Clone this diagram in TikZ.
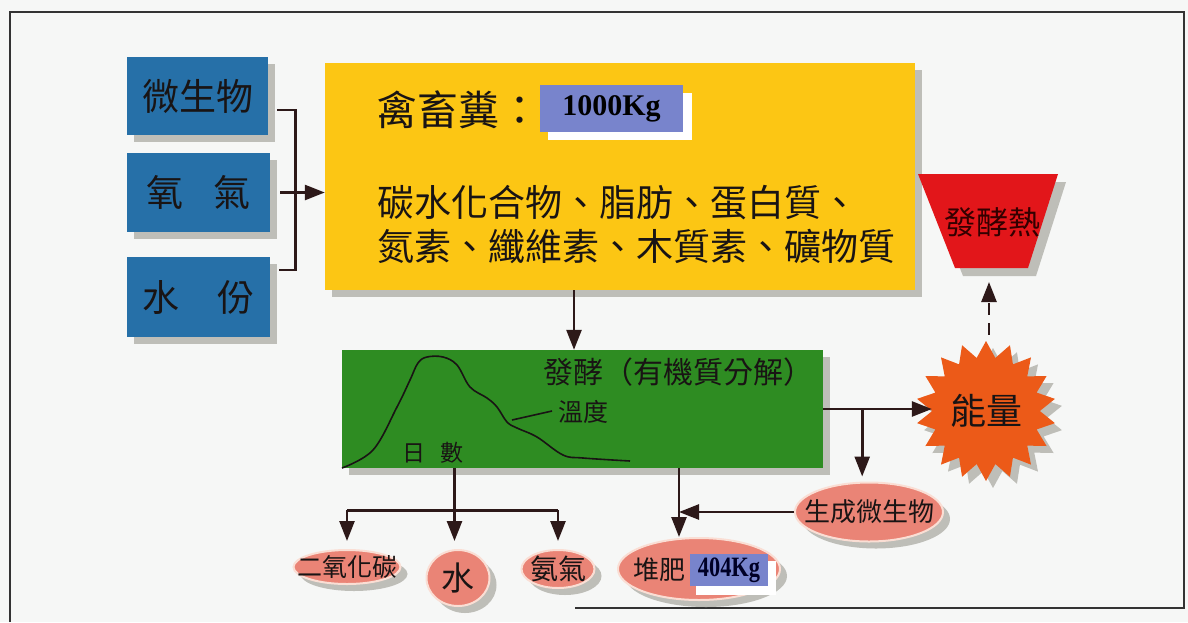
\documentclass[tikz,border=0pt]{standalone}
\usepackage{fontspec}
\setmainfont{Liberation Serif}
\newfontfamily\cjk{Noto Sans CJK TC}
\newfontfamily\numf[FakeStretch=0.8]{Liberation Serif}
\usetikzlibrary{arrows.meta,shapes.geometric,shadows}
\newcommand\myfs[1]{\fontsize{#1}{#1}\selectfont}
\definecolor{bg}{RGB}{246,247,246}
\definecolor{boxblue}{RGB}{38,112,168}
\definecolor{yel}{RGB}{252,198,20}
\definecolor{grn}{RGB}{46,140,34}
\definecolor{lblue}{RGB}{120,132,204}
\definecolor{salmon}{RGB}{234,132,118}
\definecolor{rim}{RGB}{250,222,212}
\definecolor{hotred}{RGB}{226,22,26}
\definecolor{orng}{RGB}{236,90,24}
\definecolor{shgrey}{RGB}{190,190,184}
\definecolor{lineclr}{RGB}{45,25,25}
\definecolor{txt}{RGB}{25,20,20}
\begin{document}
\begin{tikzpicture}[x=1pt,y=-1pt,
  sh/.style={drop shadow={shadow xshift=7pt,shadow yshift=-7pt,fill=shgrey,opacity=1}},
  bluebox/.style={sh,fill=boxblue,inner sep=0,font=\cjk\myfs{37},text=txt},
  oval/.style={sh,ellipse,fill=salmon,draw=rim,line width=2pt,inner sep=0},
  lbl/.style={inner sep=0,text=txt},
  conn/.style={draw=lineclr,line width=2.6pt},
  arr/.style={conn,-{Triangle[length=20pt,width=15pt]}}]
\fill[bg] (0,0) rectangle (1188,622);
\useasboundingbox (0,0) rectangle (1188,622);
\draw[line width=1.5pt,black!80] (10,622) -- (10,12) -- (1184,12) -- (1184,608) -- (575,608);
% left inputs
\node[bluebox,minimum width=141pt,minimum height=78pt] (mic) at (197.5,96) {微生物};
\node[bluebox,minimum width=143pt,minimum height=79pt] (oxy) at (198.5,192.5) {氧\hspace{30pt}氣};
\node[bluebox,minimum width=143pt,minimum height=80pt] (wat) at (198.5,297) {水\hspace{38pt}份};
% yellow box
\node[sh,fill=yel,minimum width=590pt,minimum height=227pt,inner sep=0] (yel) at (620,176.5) {};
\fill[white] (548,93) rectangle (692,140);
\node[fill=lblue,minimum width=143pt,minimum height=47pt,inner sep=0,font=\bfseries\myfs{30}] (kg1) at (611.5,108.5) {1000Kg};
\node[lbl,anchor=west,font=\cjk\myfs{41}] (title) at (376,110) {禽畜糞：};
\node[lbl,anchor=west,align=left,font=\cjk\fontsize{37}{44}\selectfont] (comp) at (377,225) {碳水化合物、脂肪、蛋白質、\\氮素、纖維素、木質素、礦物質};
% green box
\node[sh,fill=grn,minimum width=481pt,minimum height=118pt,inner sep=0] (grn) at (582.5,409) {};
\draw[txt,line width=1.6pt] plot[smooth,tension=0.6] coordinates {(342,468) (373,450) (397,407) (410,380) (418,363) (427,357) (443,357) (457,365) (470,387) (487,398) (497,407) (507,422) (517,428) (537,437) (563,455) (583,458) (630,461)};
\draw[txt,line width=1.6pt] (512,420) -- (552,411);
\node[lbl,font=\cjk\myfs{30}] (ferm) at (678,372) {發酵（有機質分解）};
\node[lbl,anchor=west,font=\cjk\myfs{25}] (temp) at (558,412) {溫度};
\node[lbl,font=\cjk\myfs{23}] (days) at (433,453) {日\hspace{15pt}數};
% outputs
\node[oval,minimum width=107pt,minimum height=34pt] (e1) at (347,567) {};
\node[lbl,font=\cjk\myfs{25}] at (e1) {二氧化碳};
\node[oval,minimum width=63pt,minimum height=56pt] (e2) at (458,578) {};
\node[lbl,font=\cjk\myfs{33}] at (e2) {水};
\node[oval,minimum width=73pt,minimum height=38pt] (e3) at (558,569) {};
\node[lbl,font=\cjk\myfs{28}] at (e3) {氨氣};
\node[oval,minimum width=162pt,minimum height=62pt] (cmp) at (699,569) {};
\node[lbl,font=\cjk\myfs{26}] (cmpl) at (659,570) {堆肥};
\fill[white] (696,561) rectangle (776,595);
\node[fill=lblue,minimum width=78pt,minimum height=32pt,inner sep=0,font=\numf\bfseries\myfs{28},text=black!85!blue] (kg2) at (729,570) {404Kg};
\node[oval,minimum width=148pt,minimum height=59pt] (mic2) at (869,512) {};
\node[lbl,font=\cjk\myfs{26}] at (mic2) {生成微生物};
% energy star
\node[sh,star,star points=18,star point ratio=1.3,minimum size=140pt,inner sep=0,fill=orng,font=\cjk\myfs{36},text=txt] (star) at (986,411) {能量};
% heat trapezoid
\fill[shgrey] (926,182) -- (1066,182) -- (1036,276) -- (963,276) -- cycle;
\fill[hotred] (918,174) -- (1058,174) -- (1028,268) -- (955,268) -- cycle;
\node[lbl,font=\cjk\myfs{32},text=black!80!red] (heat) at (992,222) {發酵熱};
\coordinate (heatb) at (989,268);
% connectors
\draw[conn] ([shift={(9,14)}]mic.east) -| ([xshift=25pt]oxy.east) |- ([shift={(9,-27)}]wat.east);
\draw[arr] ([xshift=10pt]oxy.east) -- (oxy.east -| yel.west);
\draw[arr] ([xshift=-46pt]yel.south) -- ([xshift=-46pt]yel.south |- grn.north);
\draw[conn] ([xshift=-128pt]grn.south) -- ++(0,42) coordinate (j1);
\draw[conn] (j1 -| e1.north) -- (j1 -| e3.north);
\draw[arr,shorten >=8pt] (j1 -| e1.north) -- (e1.north);
\draw[arr,shorten >=8pt] (j1) -- (j1 |- e2.north);
\draw[arr,shorten >=8pt] (j1 -| e3.north) -- (e3.north);
\coordinate (cj) at ([xshift=96.5pt]grn.south);
\draw[arr] (cj) -- (cj |- cmp.north);
\draw[arr] (mic2.west) -- (mic2.west -| cj);
\draw[arr] (grn.east) -- (grn.east -| star.west);
\draw[arr,shorten >=5pt] ([xshift=39pt]grn.east) -- ([xshift=39pt]grn.east |- mic2.north);
\draw[arr,dash pattern=on 12pt off 8pt,shorten <=6pt,shorten >=14pt] (star.north -| heatb) -- (heatb);
\end{tikzpicture}
\end{document}
